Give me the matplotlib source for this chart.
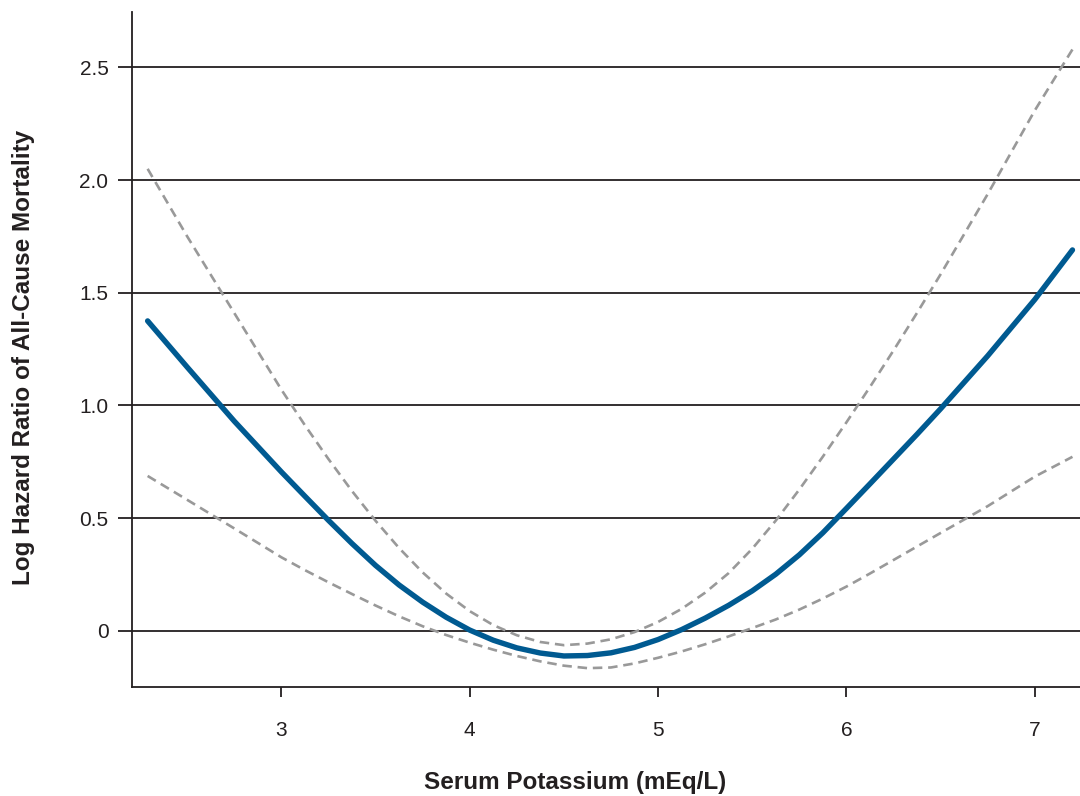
import matplotlib
matplotlib.use("Agg")
import matplotlib.pyplot as plt

plt.rcParams['font.family'] = ['Liberation Sans', 'DejaVu Sans']

# Serum potassium (mEq/L)
potassium = [2.29, 2.50, 2.75, 3.00, 3.125, 3.25, 3.375, 3.50, 3.625, 3.75,
             3.875, 4.00, 4.125, 4.25, 4.375, 4.50, 4.625, 4.75, 4.875, 5.00,
             5.125, 5.25, 5.375, 5.50, 5.625, 5.75, 5.875, 6.00, 6.125, 6.25,
             6.375, 6.50, 6.75, 7.00, 7.20]
# Log hazard ratio estimate
log_hr = [1.375, 1.17, 0.93, 0.705, 0.597, 0.49, 0.387, 0.29, 0.203, 0.127,
          0.06, 0.003, -0.042, -0.076, -0.099, -0.112, -0.110, -0.098, -0.074, -0.039,
          0.005, 0.056, 0.113, 0.177, 0.251, 0.337, 0.435, 0.543, 0.652, 0.762,
          0.872, 0.985, 1.22, 1.47, 1.69]
# Upper confidence bound
upper_ci = [2.05, 1.75, 1.41, 1.07, 0.912, 0.762, 0.62, 0.488, 0.367, 0.259,
            0.165, 0.087, 0.025, -0.02, -0.05, -0.064, -0.057, -0.038, -0.006, 0.039,
            0.097, 0.169, 0.256, 0.364, 0.489, 0.627, 0.773, 0.925, 1.082, 1.244,
            1.411, 1.582, 1.938, 2.309, 2.58]
# Lower confidence bound
lower_ci = [0.687, 0.581, 0.454, 0.326, 0.269, 0.215, 0.163, 0.112, 0.064, 0.020,
            -0.019, -0.053, -0.084, -0.112, -0.136, -0.155, -0.166, -0.163, -0.145, -0.12,
            -0.092, -0.06, -0.025, 0.012, 0.05, 0.094, 0.143, 0.196, 0.254, 0.314,
            0.374, 0.434, 0.553, 0.684, 0.772]

x_ticks = [3, 4, 5, 6, 7]
x_tick_labels = ["3", "4", "5", "6", "7"]
y_ticks = [0, 0.5, 1.0, 1.5, 2.0, 2.5]
y_tick_labels = ["0", "0.5", "1.0", "1.5", "2.0", "2.5"]

x_label = "Serum Potassium (mEq/L)"
y_label = "Log Hazard Ratio of All-Cause Mortality"

dark = "#231f20"
blue = "#005a91"
grey = "#999999"

W, H = 1080, 796
fig = plt.figure(figsize=(W / 100, H / 100), dpi=100)
left, right, bottom, top = 132, 1080, 687.3, 12
ax = fig.add_axes([left / W, 1 - bottom / H, (right - left) / W, (bottom - top) / H])

ax.set_xlim(2.207, 7.24)
ax.set_ylim(-0.251, 2.746)

ax.plot(potassium, upper_ci, color=grey, lw=1.9, dashes=(3.6, 2.2), zorder=3)
ax.plot(potassium, lower_ci, color=grey, lw=1.9, dashes=(3.6, 2.2), zorder=3)
ax.plot(potassium, log_hr, color=blue, lw=3.9, solid_capstyle='round',
        solid_joinstyle='round', zorder=4)

ax.set_xticks(x_ticks)
ax.set_xticklabels(x_tick_labels)
ax.set_yticks(y_ticks)
ax.set_yticklabels(y_tick_labels)

ax.yaxis.grid(True, color=dark, lw=1.3, zorder=1)
ax.set_axisbelow(True)

for s in ['top', 'right']:
    ax.spines[s].set_visible(False)
for s in ['left', 'bottom']:
    ax.spines[s].set_color(dark)
    ax.spines[s].set_linewidth(1.3)

ax.tick_params(axis='y', direction='out', length=10, width=1.3, color=dark,
               labelsize=15, labelcolor=dark, pad=7)
ax.tick_params(axis='x', direction='out', length=7, width=1.3, color=dark,
               labelsize=15, labelcolor=dark, pad=17)

fig.text(575 / W, 1 - 783 / H, x_label, ha='center', va='center',
         fontsize=17.5, fontweight='bold', color=dark)
fig.text(24 / W, 1 - 357.5 / H, y_label, ha='center', va='center',
         rotation=90, fontsize=17.5, fontweight='bold', color=dark)

fig.savefig("out.png", dpi=100)
